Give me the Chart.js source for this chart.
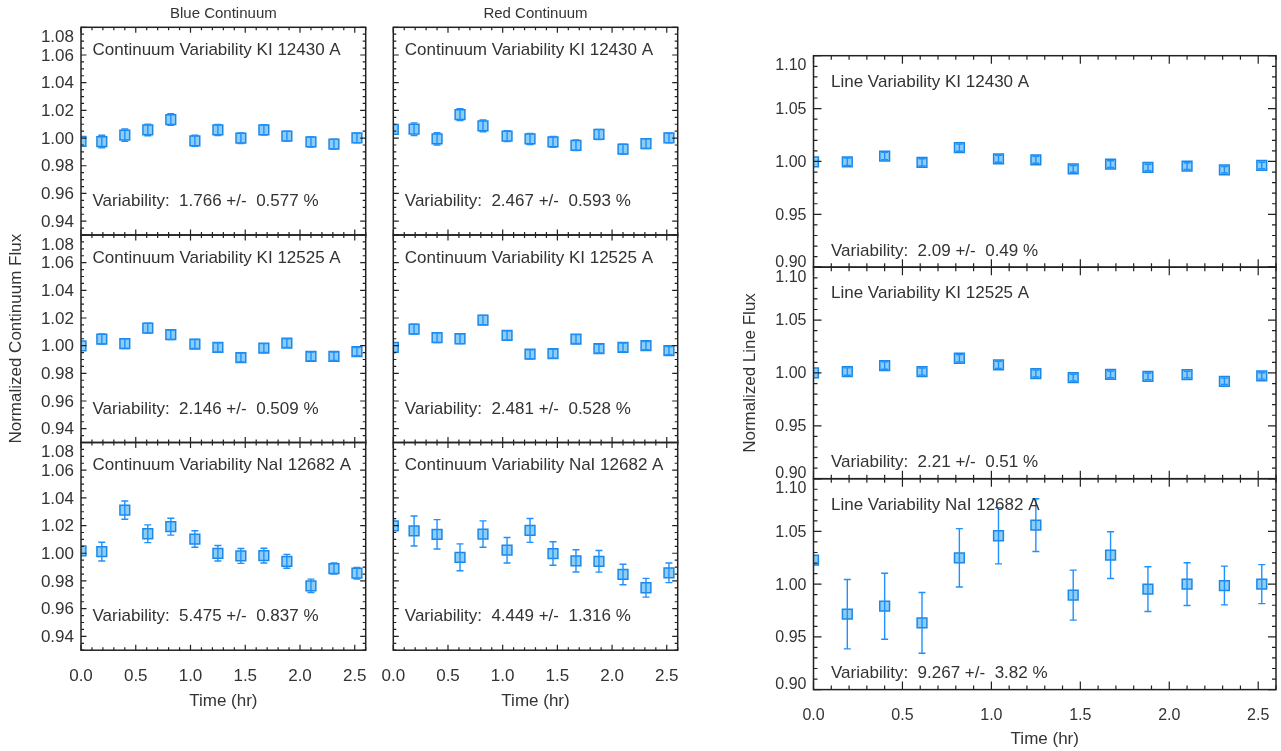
<!DOCTYPE html>
<html>
<head>
<meta charset="utf-8">
<script src="https://cdn.jsdelivr.net/npm/chart.js@4.4.0/dist/chart.umd.min.js"></script>
<style>
  html, body { margin: 0; padding: 0; background: #fff; }
  #wrap { position: relative; width: 1281px; height: 751px; overflow: hidden; }
  #wrap canvas { position: absolute; left: 0; top: 0; }
</style>
</head>
<body>
<div id="wrap"></div>
<script>
// time of each exposure (hr)
const times = [0.0, 0.19, 0.40, 0.61, 0.82, 1.04, 1.25, 1.46, 1.67, 1.88, 2.10, 2.31, 2.52];

// blue continuum (first exposure is the reference, no error bar)
const blueKI12430 = [0.9977, 0.9975, 1.0021, 1.0059, 1.0134, 0.9980, 1.0059, 0.9999, 1.0059, 1.0014, 0.9972, 0.9956, 1.0001];
const blueKI12430Err = [0, 0.0045, 0.0045, 0.0042, 0.0042, 0.0040, 0.0040, 0.0038, 0.0038, 0.0036, 0.0036, 0.0035, 0.0035];
const blueKI12525 = [0.9998, 1.0048, 1.0014, 1.0127, 1.0079, 1.0012, 0.9988, 0.9914, 0.9983, 1.0019, 0.9923, 0.9923, 0.9957];
const blueKI12525Err = [0, 0.0036, 0.0035, 0.0035, 0.0034, 0.0033, 0.0033, 0.0032, 0.0032, 0.0031, 0.0031, 0.0030, 0.0030];
const blueNaI12682 = [1.0017, 1.0012, 1.0312, 1.0141, 1.0192, 1.0103, 1.0000, 0.9981, 0.9983, 0.9942, 0.9765, 0.9890, 0.9856];
const blueNaI12682Err = [0, 0.0068, 0.0066, 0.0064, 0.0061, 0.0060, 0.0056, 0.0054, 0.0053, 0.0050, 0.0048, 0.0040, 0.0042];

// red continuum
const redKI12430 = [1.0062, 1.0064, 0.9994, 1.0170, 1.0088, 1.0014, 0.9994, 0.9972, 0.9948, 1.0026, 0.9920, 0.9960, 1.0001];
const redKI12430Err = [0, 0.0046, 0.0044, 0.0043, 0.0042, 0.0040, 0.0040, 0.0039, 0.0038, 0.0037, 0.0036, 0.0035, 0.0035];
const redKI12525 = [0.9988, 1.0120, 1.0058, 1.0050, 1.0185, 1.0074, 0.9938, 0.9942, 1.0048, 0.9978, 0.9988, 1.0000, 0.9964];
const redKI12525Err = [0, 0.0036, 0.0035, 0.0035, 0.0034, 0.0034, 0.0033, 0.0032, 0.0032, 0.0031, 0.0031, 0.0030, 0.0030];
const redNaI12682 = [1.0197, 1.0161, 1.0137, 0.9971, 1.0139, 1.0022, 1.0165, 0.9998, 0.9945, 0.9942, 0.9847, 0.9751, 0.9859];
const redNaI12682Err = [0, 0.0108, 0.0106, 0.0097, 0.0095, 0.0092, 0.0086, 0.0085, 0.0080, 0.0078, 0.0074, 0.0068, 0.0071];

// line flux
const lineKI12430 = [0.9997, 0.9997, 1.0051, 0.9991, 1.0130, 1.0025, 1.0016, 0.9930, 0.9975, 0.9943, 0.9956, 0.9921, 0.9962];
const lineKI12430Err = [0, 0.0035, 0.0035, 0.0034, 0.0034, 0.0033, 0.0033, 0.0032, 0.0032, 0.0031, 0.0031, 0.0030, 0.0030];
const lineKI12525 = [1.0000, 1.0013, 1.0070, 1.0013, 1.0139, 1.0076, 0.9994, 0.9956, 0.9987, 0.9968, 0.9984, 0.9921, 0.9972];
const lineKI12525Err = [0, 0.0035, 0.0035, 0.0034, 0.0034, 0.0033, 0.0033, 0.0032, 0.0032, 0.0031, 0.0031, 0.0030, 0.0030];
const lineNaI12682 = [1.0228, 0.9715, 0.9791, 0.9633, 1.0250, 1.0459, 1.0560, 0.9896, 1.0275, 0.9953, 1.0000, 0.9987, 1.0000];
const lineNaI12682Err = [0, 0.0329, 0.0313, 0.0288, 0.0277, 0.0267, 0.0250, 0.0237, 0.0222, 0.0212, 0.0203, 0.0184, 0.0185];

// axes
const contTicks = [0.94, 0.96, 0.98, 1.00, 1.02, 1.04, 1.06, 1.08];
const contTickLabels = ['0.94', '0.96', '0.98', '1.00', '1.02', '1.04', '1.06', '1.08'];
const lineTicks = [0.90, 0.95, 1.00, 1.05, 1.10];
const lineTickLabels = ['0.90', '0.95', '1.00', '1.05', '1.10'];
const timeTicks = [0.0, 0.5, 1.0, 1.5, 2.0, 2.5];
const timeTickLabels = ['0.0', '0.5', '1.0', '1.5', '2.0', '2.5'];

const W = 1281, H = 751;
const FONT = '"Liberation Sans", Arial, sans-serif';
const TEXT = '#333';
const FRAME = '#222';
const FILL = '#8ccdf6';
const EDGE = '#1c88e6';
const ERR = '#1e90ff';

// column / row positions of the plot boxes
const colL = { x0: 81, x1: 365.7 };
const colM = { x0: 393.3, x1: 677.7 };
const colR = { x0: 813.5, x1: 1276 };
const rowsC = [27.3, 235, 442.5, 650.2];
const rowsR = [55.7, 267.2, 478.7, 689.6];

const cont = { ymin: 0.93, ymax: 1.08, ticks: contTicks, labels: contTickLabels, minStep: 0.005, minLo: 186, minHi: 216, maj: 5.5, min: 3, tickFont: 17 };
const line = { ymin: 0.90, ymax: 1.10, ticks: lineTicks, labels: lineTickLabels, minStep: 0.01, minLo: 90, minHi: 110, maj: 8, min: 4, tickFont: 16 };

const panels = [
  { col: colL, top: rowsC[0], bottom: rowsC[1], ax: cont, values: blueKI12430, errors: blueKI12430Err,
    title: 'Continuum Variability KI 12430 A', varText: 'Variability:  1.766 +/-  0.577 %', yLabels: true, xLabels: false,
    header: 'Blue Continuum' },
  { col: colL, top: rowsC[1], bottom: rowsC[2], ax: cont, values: blueKI12525, errors: blueKI12525Err,
    title: 'Continuum Variability KI 12525 A', varText: 'Variability:  2.146 +/-  0.509 %', yLabels: true, xLabels: false,
    yTitle: { text: 'Normalized Continuum Flux', x: 16, y: 338.7 } },
  { col: colL, top: rowsC[2], bottom: rowsC[3], ax: cont, values: blueNaI12682, errors: blueNaI12682Err,
    title: 'Continuum Variability NaI 12682 A', varText: 'Variability:  5.475 +/-  0.837 %', yLabels: true, xLabels: true },
  { col: colM, top: rowsC[0], bottom: rowsC[1], ax: cont, values: redKI12430, errors: redKI12430Err,
    title: 'Continuum Variability KI 12430 A', varText: 'Variability:  2.467 +/-  0.593 %', yLabels: false, xLabels: false,
    header: 'Red Continuum' },
  { col: colM, top: rowsC[1], bottom: rowsC[2], ax: cont, values: redKI12525, errors: redKI12525Err,
    title: 'Continuum Variability KI 12525 A', varText: 'Variability:  2.481 +/-  0.528 %', yLabels: false, xLabels: false },
  { col: colM, top: rowsC[2], bottom: rowsC[3], ax: cont, values: redNaI12682, errors: redNaI12682Err,
    title: 'Continuum Variability NaI 12682 A', varText: 'Variability:  4.449 +/-  1.316 %', yLabels: false, xLabels: true },
  { col: colR, top: rowsR[0], bottom: rowsR[1], ax: line, values: lineKI12430, errors: lineKI12430Err,
    title: 'Line Variability KI 12430 A', varText: 'Variability:  2.09 +/-  0.49 %', yLabels: true, xLabels: false },
  { col: colR, top: rowsR[1], bottom: rowsR[2], ax: line, values: lineKI12525, errors: lineKI12525Err,
    title: 'Line Variability KI 12525 A', varText: 'Variability:  2.21 +/-  0.51 %', yLabels: true, xLabels: false,
    yTitle: { text: 'Normalized Line Flux', x: 750, y: 373 } },
  { col: colR, top: rowsR[2], bottom: rowsR[3], ax: line, values: lineNaI12682, errors: lineNaI12682Err,
    title: 'Line Variability NaI 12682 A', varText: 'Variability:  9.267 +/-  3.82 %', yLabels: true, xLabels: true }
];

function seg(ctx, x1, y1, x2, y2) {
  ctx.moveTo(x1, y1);
  ctx.lineTo(x2, y2);
}

function panelPlugin(p) {
  const isLine = p.ax === line;
  return {
    id: 'panelDecor',
    // error bars on top of the squares
    afterDatasetsDraw(chart) {
      const { ctx, chartArea: a, scales: { x, y } } = chart;
      const cap = 3.5;
      ctx.save();
      ctx.beginPath();
      ctx.rect(a.left, a.top, a.right - a.left, a.bottom - a.top);
      ctx.clip();
      ctx.strokeStyle = ERR;
      ctx.lineWidth = 1.4;
      times.forEach((t, i) => {
        if (!p.errors[i]) return;
        const px = x.getPixelForValue(t);
        const lo = y.getPixelForValue(p.values[i] - p.errors[i]);
        const hi = y.getPixelForValue(p.values[i] + p.errors[i]);
        ctx.beginPath();
        seg(ctx, px, lo, px, hi);
        seg(ctx, px - cap, lo, px + cap, lo);
        seg(ctx, px - cap, hi, px + cap, hi);
        ctx.stroke();
      });
      ctx.restore();
    },
    afterDraw(chart) {
      const { ctx, chartArea: a, scales: { x, y } } = chart;
      const ax = p.ax;
      ctx.save();

      // inward ticks on all four sides
      ctx.strokeStyle = FRAME;
      ctx.lineWidth = 1.2;
      ctx.beginPath();
      for (let k = 0; k <= 26; k++) {
        const px = x.getPixelForValue(k / 10);
        const len = k % 5 === 0 ? ax.maj : ax.min;
        seg(ctx, px, a.bottom, px, a.bottom - len);
        seg(ctx, px, a.top, px, a.top + len);
      }
      for (let k = ax.minLo; k <= ax.minHi; k++) {
        const v = k * ax.minStep;
        const py = y.getPixelForValue(v);
        const major = ax.ticks.some(t => Math.abs(t - v) < 1e-6);
        const len = major ? ax.maj : ax.min;
        seg(ctx, a.left, py, a.left + len, py);
        seg(ctx, a.right, py, a.right - len, py);
      }
      ctx.stroke();

      // frame
      ctx.lineWidth = 1.5;
      ctx.strokeRect(a.left, a.top, a.right - a.left, a.bottom - a.top);

      ctx.fillStyle = TEXT;

      // y tick labels, the end ones kept inside the box height
      if (p.yLabels) {
        ctx.font = ax.tickFont + 'px ' + FONT;
        ctx.textAlign = 'right';
        ctx.textBaseline = 'middle';
        ax.ticks.forEach((v, i) => {
          let py = y.getPixelForValue(v);
          py = Math.min(Math.max(py, a.top + 9), a.bottom - 6);
          ctx.fillText(ax.labels[i], a.left - 7, py + 1);
        });
      }

      // x tick labels and axis title
      if (p.xLabels) {
        ctx.font = ax.tickFont + 'px ' + FONT;
        ctx.textAlign = 'center';
        ctx.textBaseline = 'middle';
        timeTicks.forEach((v, i) => {
          ctx.fillText(timeTickLabels[i], x.getPixelForValue(v), a.bottom + 26);
        });
        ctx.font = '17px ' + FONT;
        ctx.fillText('Time (hr)', (a.left + a.right) / 2, a.bottom + (isLine ? 50 : 51));
      }

      // panel texts
      ctx.font = '17px ' + FONT;
      ctx.textAlign = 'left';
      ctx.textBaseline = 'middle';
      if (isLine) {
        ctx.fillText(p.title, a.left + 17.5, a.top + 26.5);
        ctx.fillText(p.varText, a.left + 17.5, a.bottom - 16);
      } else {
        ctx.fillText(p.title, a.left + 11.5, a.top + 23);
        ctx.fillText(p.varText, a.left + 11.5, a.bottom - 33.5);
      }

      if (p.header) {
        ctx.font = '15px ' + FONT;
        ctx.textAlign = 'center';
        ctx.fillText(p.header, (a.left + a.right) / 2, 13.5);
      }

      if (p.yTitle) {
        ctx.font = '17px ' + FONT;
        ctx.textAlign = 'center';
        ctx.translate(p.yTitle.x, p.yTitle.y);
        ctx.rotate(-Math.PI / 2);
        ctx.fillText(p.yTitle.text, 0, 0);
      }
      ctx.restore();
    }
  };
}

const wrap = document.getElementById('wrap');
const charts = [];

panels.forEach((p) => {
  const canvas = document.createElement('canvas');
  canvas.width = W;
  canvas.height = H;
  canvas.style.width = W + 'px';
  canvas.style.height = H + 'px';
  wrap.appendChild(canvas);

  charts.push(new Chart(canvas, {
    type: 'scatter',
    data: {
      datasets: [{
        data: times.map((t, i) => ({ x: t, y: p.values[i] })),
        pointStyle: 'rect',
        pointRadius: 6.9,
        pointHoverRadius: 6.9,
        pointBackgroundColor: FILL,
        pointBorderColor: EDGE,
        pointBorderWidth: 1.5,
        clip: 0
      }]
    },
    options: {
      responsive: false,
      animation: false,
      events: [],
      layout: {
        autoPadding: false,
        padding: { left: p.col.x0, top: p.top, right: W - p.col.x1, bottom: H - p.bottom }
      },
      scales: {
        x: { type: 'linear', display: false, min: 0, max: 2.6 },
        y: { type: 'linear', display: false, min: p.ax.ymin, max: p.ax.ymax }
      },
      plugins: {
        legend: { display: false },
        tooltip: { enabled: false }
      }
    },
    plugins: [panelPlugin(p)]
  }));
});
</script>
</body>
</html>
